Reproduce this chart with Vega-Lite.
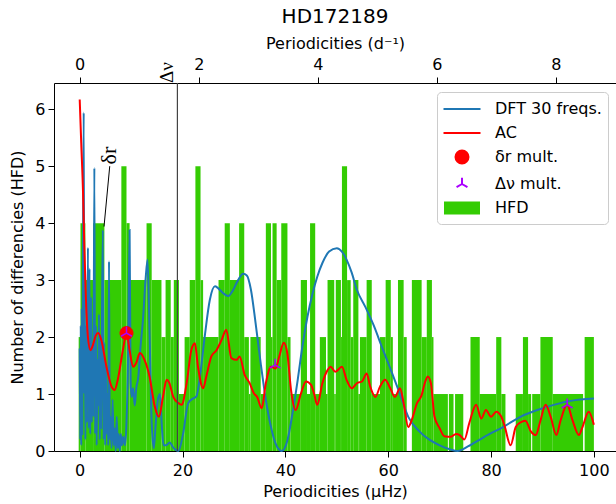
{
  "$schema": "https://vega.github.io/schema/vega-lite/v6.json",
  "width": 562,
  "height": 368,
  "autosize": {"type": "none"},
  "padding": {"left": 54, "top": 83, "right": 0, "bottom": 53},
  "title": {"text": "HD172189", "fontSize": 20, "font": "DejaVu Sans", "fontWeight": "normal", "color": "#000", "offset": 8},
  "config": {
    "view": {"stroke": null},
    "font": "DejaVu Sans",
    "axis": {"grid": false, "domainColor": "#000", "tickColor": "#000", "labelColor": "#000", "titleColor": "#000", "labelFontSize": 16, "titleFontSize": 16, "titleFontWeight": "normal", "tickSize": 6, "labelFont": "DejaVu Sans", "titleFont": "DejaVu Sans", "labelPadding": 5, "titlePadding": 5},
    "legend": {"labelFontSize": 16, "labelFont": "DejaVu Sans", "labelColor": "#000", "symbolSize": 400, "symbolStrokeWidth": 2, "symbolOffset": 8, "strokeColor": "#cccccc", "fillColor": "rgba(255,255,255,0.8)", "cornerRadius": 4, "padding": 6, "rowPadding": 5, "labelOffset": 22, "labelLimit": 250}
  },
  "datasets": {
    "hfd": [
      {"u": -0.2, "u2": 0.15, "n": 2}, {"u": 0.15, "u2": 1.1, "n": 4}, {"u": 1.1, "u2": 2.6, "n": 3}, {"u": 2.6, "u2": 4.8, "n": 4},
      {"u": 4.8, "u2": 8.1, "n": 3}, {"u": 8.1, "u2": 9.1, "n": 5}, {"u": 9.1, "u2": 9.7, "n": 4}, {"u": 9.7, "u2": 13.0, "n": 3},
      {"u": 13.0, "u2": 14.0, "n": 4}, {"u": 14.0, "u2": 15.9, "n": 3}, {"u": 15.9, "u2": 16.7, "n": 2}, {"u": 16.7, "u2": 17.7, "n": 3},
      {"u": 17.7, "u2": 18.3, "n": 2}, {"u": 18.3, "u2": 19.3, "n": 3}, {"u": 19.3, "u2": 20.4, "n": 1}, {"u": 20.4, "u2": 21.4, "n": 2},
      {"u": 21.4, "u2": 22.5, "n": 3}, {"u": 22.5, "u2": 23.5, "n": 5}, {"u": 23.5, "u2": 24.0, "n": 3}, {"u": 24.0, "u2": 27.0, "n": 2},
      {"u": 27.0, "u2": 28.2, "n": 3}, {"u": 28.2, "u2": 29.2, "n": 4}, {"u": 29.2, "u2": 31.0, "n": 3}, {"u": 31.0, "u2": 32.0, "n": 4},
      {"u": 32.0, "u2": 32.9, "n": 2}, {"u": 32.9, "u2": 33.2, "n": 1}, {"u": 33.2, "u2": 35.2, "n": 2}, {"u": 35.2, "u2": 36.2, "n": 1},
      {"u": 36.2, "u2": 37.2, "n": 4}, {"u": 37.2, "u2": 37.5, "n": 2}, {"u": 37.5, "u2": 38.3, "n": 4}, {"u": 38.3, "u2": 39.2, "n": 3},
      {"u": 39.2, "u2": 40.4, "n": 4}, {"u": 40.4, "u2": 41.0, "n": 2}, {"u": 41.0, "u2": 43.0, "n": 1}, {"u": 43.0, "u2": 44.2, "n": 3},
      {"u": 44.2, "u2": 44.8, "n": 1}, {"u": 44.8, "u2": 45.8, "n": 4}, {"u": 45.8, "u2": 46.7, "n": 1}, {"u": 46.7, "u2": 47.9, "n": 2},
      {"u": 47.9, "u2": 48.2, "n": 1}, {"u": 48.2, "u2": 49.5, "n": 3}, {"u": 49.5, "u2": 49.8, "n": 1}, {"u": 49.8, "u2": 50.8, "n": 3},
      {"u": 50.8, "u2": 51.0, "n": 2}, {"u": 51.0, "u2": 52.0, "n": 5}, {"u": 52.0, "u2": 52.7, "n": 3}, {"u": 52.7, "u2": 53.2, "n": 2},
      {"u": 53.2, "u2": 54.2, "n": 3}, {"u": 54.2, "u2": 54.5, "n": 1}, {"u": 54.5, "u2": 55.8, "n": 2}, {"u": 55.8, "u2": 56.8, "n": 3},
      {"u": 56.8, "u2": 58.4, "n": 1}, {"u": 58.4, "u2": 59.5, "n": 2}, {"u": 59.5, "u2": 60.5, "n": 3}, {"u": 60.5, "u2": 60.9, "n": 2},
      {"u": 60.9, "u2": 61.9, "n": 1}, {"u": 61.9, "u2": 63.0, "n": 3}, {"u": 63.0, "u2": 63.6, "n": 2}, {"u": 64.6, "u2": 66.5, "n": 3},
      {"u": 66.5, "u2": 67.5, "n": 2}, {"u": 67.5, "u2": 68.5, "n": 3}, {"u": 68.5, "u2": 68.8, "n": 2}, {"u": 68.8, "u2": 71.6, "n": 1},
      {"u": 71.8, "u2": 72.7, "n": 1}, {"u": 73.0, "u2": 74.6, "n": 1}, {"u": 76.0, "u2": 77.8, "n": 2}, {"u": 77.8, "u2": 81.0, "n": 1},
      {"u": 81.0, "u2": 82.0, "n": 2}, {"u": 82.0, "u2": 82.8, "n": 1}, {"u": 84.8, "u2": 86.2, "n": 1}, {"u": 86.2, "u2": 87.2, "n": 2},
      {"u": 87.2, "u2": 87.8, "n": 1}, {"u": 88.0, "u2": 89.6, "n": 1}, {"u": 89.6, "u2": 92.0, "n": 2}, {"u": 92.0, "u2": 97.9, "n": 1},
      {"u": 98.2, "u2": 100.0, "n": 2}
    ],
    "dft": [
      {"u": 0.0, "v": 1.8}, {"u": 0.1, "v": 0.2}, {"u": 0.2, "v": 2.2}, {"u": 0.3, "v": 0.1}, {"u": 0.4, "v": 2.5}, {"u": 0.5, "v": 0.3},
      {"u": 0.62, "v": 3.0}, {"u": 0.78, "v": 5.94}, {"u": 0.9, "v": 1.0}, {"u": 1.0, "v": 2.6}, {"u": 1.1, "v": 0.2}, {"u": 1.25, "v": 2.2},
      {"u": 1.4, "v": 0.5}, {"u": 1.6, "v": 3.57}, {"u": 1.75, "v": 0.4}, {"u": 1.9, "v": 3.2}, {"u": 2.05, "v": 0.3}, {"u": 2.2, "v": 2.7},
      {"u": 2.35, "v": 0.5}, {"u": 2.5, "v": 1.8}, {"u": 2.65, "v": 0.6}, {"u": 2.85, "v": 4.97}, {"u": 3.0, "v": 0.3}, {"u": 3.15, "v": 2.2},
      {"u": 3.3, "v": 0.1}, {"u": 3.45, "v": 1.6}, {"u": 3.6, "v": 0.8}, {"u": 3.75, "v": 2.4}, {"u": 3.9, "v": 0.2}, {"u": 4.05, "v": 2.0},
      {"u": 4.2, "v": 0.4}, {"u": 4.35, "v": 2.6}, {"u": 4.5, "v": 3.88}, {"u": 4.65, "v": 0.2}, {"u": 4.8, "v": 1.9}, {"u": 4.95, "v": 0.1},
      {"u": 5.1, "v": 1.5}, {"u": 5.25, "v": 0.3}, {"u": 5.4, "v": 1.0}, {"u": 5.55, "v": 0.1}, {"u": 5.7, "v": 3.33}, {"u": 5.85, "v": 0.2},
      {"u": 6.0, "v": 0.6}, {"u": 6.2, "v": 0.05}, {"u": 6.4, "v": 0.9}, {"u": 6.6, "v": 0.1}, {"u": 6.8, "v": 0.4}, {"u": 7.0, "v": 0.0},
      {"u": 7.2, "v": 0.6}, {"u": 7.4, "v": 0.05}, {"u": 7.6, "v": 0.3}, {"u": 7.8, "v": 0.0}, {"u": 8.0, "v": 0.3}, {"u": 8.2, "v": 0.1},
      {"u": 8.5, "v": 0.25}, {"u": 8.8, "v": 0.1}, {"u": 9.1, "v": 0.5}, {"u": 9.4, "v": 1.6}, {"u": 9.7, "v": 3.88}, {"u": 9.9, "v": 1.2},
      {"u": 10.1, "v": 0.95}, {"u": 10.4, "v": 1.1}, {"u": 10.7, "v": 0.8}, {"u": 11.0, "v": 1.1}, {"u": 11.4, "v": 1.3}, {"u": 11.8, "v": 1.8},
      {"u": 12.3, "v": 2.3}, {"u": 12.8, "v": 3.0}, {"u": 13.2, "v": 3.36}, {"u": 13.6, "v": 2.0}, {"u": 14.0, "v": 0.5}, {"u": 14.4, "v": 0.05},
      {"u": 14.8, "v": 0.5}, {"u": 15.2, "v": 0.9}, {"u": 15.6, "v": 1.0}, {"u": 16.0, "v": 0.4}, {"u": 16.3, "v": 0.1}, {"u": 16.8, "v": 0.1},
      {"u": 17.5, "v": 0.15}, {"u": 18.2, "v": 0.06}, {"u": 19.2, "v": 0.0}, {"u": 20.1, "v": 0.3}, {"u": 21.1, "v": 0.84}, {"u": 22.0, "v": 0.92},
      {"u": 22.7, "v": 0.96}, {"u": 23.3, "v": 1.25}, {"u": 24.3, "v": 2.0}, {"u": 25.3, "v": 2.65}, {"u": 26.3, "v": 2.89}, {"u": 26.9, "v": 2.86},
      {"u": 27.9, "v": 2.77}, {"u": 28.9, "v": 2.72}, {"u": 29.8, "v": 2.82}, {"u": 30.8, "v": 3.0}, {"u": 31.8, "v": 3.11}, {"u": 32.5, "v": 3.08},
      {"u": 33.3, "v": 2.83}, {"u": 34.2, "v": 2.25}, {"u": 35.2, "v": 1.54}, {"u": 36.2, "v": 0.9}, {"u": 37.2, "v": 0.42}, {"u": 38.1, "v": 0.13},
      {"u": 39.3, "v": 0.0}, {"u": 40.4, "v": 0.19}, {"u": 41.4, "v": 0.67}, {"u": 42.4, "v": 1.25}, {"u": 43.3, "v": 1.83}, {"u": 44.3, "v": 2.36},
      {"u": 45.3, "v": 2.77}, {"u": 46.2, "v": 3.06}, {"u": 47.2, "v": 3.3}, {"u": 48.5, "v": 3.5}, {"u": 50.0, "v": 3.56}, {"u": 51.0, "v": 3.5},
      {"u": 51.9, "v": 3.36}, {"u": 52.9, "v": 3.13}, {"u": 53.9, "v": 2.83}, {"u": 55.5, "v": 2.54}, {"u": 57.2, "v": 2.2}, {"u": 58.75, "v": 1.83},
      {"u": 60.4, "v": 1.45}, {"u": 62.0, "v": 1.07}, {"u": 63.9, "v": 0.6}, {"u": 66.0, "v": 0.35}, {"u": 68.0, "v": 0.2}, {"u": 70.0, "v": 0.1},
      {"u": 72.0, "v": 0.03}, {"u": 73.5, "v": 0.0}, {"u": 75.5, "v": 0.08}, {"u": 78.7, "v": 0.25}, {"u": 82.5, "v": 0.43}, {"u": 85.7, "v": 0.6},
      {"u": 89.0, "v": 0.72}, {"u": 92.2, "v": 0.81}, {"u": 95.5, "v": 0.88}, {"u": 100.0, "v": 0.92}
    ],
    "ac": [
      {"u": 0.0, "v": 6.17}, {"u": 0.3, "v": 5.4}, {"u": 0.65, "v": 4.53}, {"u": 0.9, "v": 3.6}, {"u": 1.17, "v": 2.77}, {"u": 1.6, "v": 2.0},
      {"u": 2.1, "v": 1.77}, {"u": 2.6, "v": 1.87}, {"u": 3.1, "v": 2.02}, {"u": 3.6, "v": 2.07}, {"u": 4.2, "v": 1.95}, {"u": 5.2, "v": 1.48},
      {"u": 6.2, "v": 1.13}, {"u": 6.8, "v": 1.07}, {"u": 7.4, "v": 1.25}, {"u": 8.4, "v": 1.77}, {"u": 9.1, "v": 2.07}, {"u": 9.7, "v": 1.77},
      {"u": 10.4, "v": 1.48}, {"u": 11.0, "v": 1.55}, {"u": 11.7, "v": 1.72}, {"u": 12.6, "v": 1.6}, {"u": 13.6, "v": 1.3}, {"u": 14.6, "v": 0.78},
      {"u": 15.4, "v": 0.6}, {"u": 16.2, "v": 0.95}, {"u": 16.9, "v": 1.25}, {"u": 17.4, "v": 1.2}, {"u": 18.2, "v": 0.95}, {"u": 19.2, "v": 0.84},
      {"u": 19.8, "v": 0.81}, {"u": 20.8, "v": 1.19}, {"u": 21.7, "v": 1.77}, {"u": 22.4, "v": 1.89}, {"u": 23.0, "v": 1.48}, {"u": 24.0, "v": 1.1},
      {"u": 24.6, "v": 1.3}, {"u": 25.6, "v": 1.66}, {"u": 26.6, "v": 1.77}, {"u": 27.6, "v": 1.95}, {"u": 28.5, "v": 2.13}, {"u": 29.5, "v": 1.63},
      {"u": 30.5, "v": 1.6}, {"u": 31.1, "v": 1.66}, {"u": 32.1, "v": 1.33}, {"u": 33.0, "v": 1.2}, {"u": 33.9, "v": 1.01}, {"u": 34.5, "v": 0.95},
      {"u": 35.4, "v": 0.75}, {"u": 36.2, "v": 1.19}, {"u": 37.2, "v": 1.48}, {"u": 38.1, "v": 1.45}, {"u": 38.8, "v": 1.66}, {"u": 39.7, "v": 1.9},
      {"u": 40.4, "v": 1.7}, {"u": 41.1, "v": 1.07}, {"u": 42.0, "v": 0.72}, {"u": 43.0, "v": 1.0}, {"u": 44.0, "v": 1.22}, {"u": 45.0, "v": 1.16},
      {"u": 45.6, "v": 1.0}, {"u": 46.2, "v": 0.81}, {"u": 47.2, "v": 1.19}, {"u": 48.2, "v": 1.42}, {"u": 48.8, "v": 1.48}, {"u": 49.7, "v": 1.39},
      {"u": 51.0, "v": 1.48}, {"u": 51.9, "v": 1.25}, {"u": 52.9, "v": 1.1}, {"u": 53.9, "v": 1.19}, {"u": 54.9, "v": 1.22}, {"u": 55.8, "v": 1.36},
      {"u": 56.5, "v": 1.13}, {"u": 57.5, "v": 0.95}, {"u": 58.4, "v": 1.13}, {"u": 59.4, "v": 1.25}, {"u": 60.4, "v": 1.1}, {"u": 61.3, "v": 0.95},
      {"u": 62.3, "v": 1.1}, {"u": 63.0, "v": 0.84}, {"u": 63.9, "v": 0.42}, {"u": 64.6, "v": 0.55}, {"u": 65.6, "v": 0.84}, {"u": 66.5, "v": 0.98},
      {"u": 67.1, "v": 1.19}, {"u": 67.7, "v": 1.31}, {"u": 68.3, "v": 1.19}, {"u": 69.0, "v": 0.6}, {"u": 70.0, "v": 0.4}, {"u": 70.9, "v": 0.26},
      {"u": 72.2, "v": 0.25}, {"u": 73.2, "v": 0.3}, {"u": 73.9, "v": 0.28}, {"u": 74.8, "v": 0.2}, {"u": 75.8, "v": 0.5}, {"u": 77.1, "v": 0.81},
      {"u": 78.1, "v": 0.57}, {"u": 79.0, "v": 0.72}, {"u": 80.0, "v": 0.6}, {"u": 81.0, "v": 0.69}, {"u": 82.0, "v": 0.6}, {"u": 82.6, "v": 0.45},
      {"u": 83.8, "v": 0.1}, {"u": 84.8, "v": 0.42}, {"u": 85.7, "v": 0.5}, {"u": 86.7, "v": 0.53}, {"u": 87.7, "v": 0.35}, {"u": 88.7, "v": 0.28},
      {"u": 89.6, "v": 0.53}, {"u": 90.6, "v": 0.81}, {"u": 91.6, "v": 0.6}, {"u": 92.7, "v": 0.28}, {"u": 93.5, "v": 0.53}, {"u": 94.8, "v": 0.81},
      {"u": 95.8, "v": 0.55}, {"u": 97.1, "v": 0.28}, {"u": 97.7, "v": 0.4}, {"u": 99.0, "v": 0.69}, {"u": 100.0, "v": 0.46}
    ],
    "dr": [{"u": 9.1, "v": 2.07}],
    "dnu": [{"u": 9.1, "v": 2.07}, {"u": 38.0, "v": 1.51}, {"u": 94.8, "v": 0.81}]
  },
  "layer": [
    {
      "layer": [
        {
          "data": {"name": "hfd"},
          "mark": {"type": "rect", "strokeWidth": 0},
          "encoding": {
            "x": {"field": "u", "type": "quantitative", "scale": {"domain": [-5, 104.3], "nice": false, "zero": false},
                  "axis": {"orient": "bottom", "values": [0, 20, 40, 60, 80, 100], "format": "d", "title": "Periodicities (μHz)"}},
            "x2": {"field": "u2"},
            "y": {"field": "n", "type": "quantitative", "scale": {"domain": [0, 6.46], "nice": false},
                  "axis": {"values": [0, 1, 2, 3, 4, 5, 6], "format": "d", "title": "Number of differencies (HFD)", "labelPadding": 3, "titlePadding": 9}},
            "y2": {"datum": 0},
            "fill": {"datum": "HFD", "type": "nominal",
                     "scale": {"domain": ["DFT 30 freqs.", "AC", "δr mult.", "Δν mult.", "HFD"], "range": ["#1f77b4", "#ff0000", "#ff0000", "#aa00ff", "#34cc03"]},
                     "legend": {"title": null, "orient": "none", "legendX": 383, "legendY": 9}}
          }
        },
        {
          "data": {"name": "dft"},
          "mark": {"type": "line", "strokeWidth": 2, "interpolate": "monotone"},
          "encoding": {
            "x": {"field": "u", "type": "quantitative"},
            "y": {"field": "v", "type": "quantitative"},
            "stroke": {"datum": "DFT 30 freqs.", "type": "nominal",
                       "scale": {"domain": ["DFT 30 freqs.", "AC", "δr mult.", "Δν mult.", "HFD"], "range": ["#1f77b4", "#ff0000", "#ff0000", "#aa00ff", "#34cc03"]}}
          }
        },
        {
          "data": {"name": "ac"},
          "mark": {"type": "line", "strokeWidth": 2, "interpolate": "monotone"},
          "encoding": {
            "x": {"field": "u", "type": "quantitative"},
            "y": {"field": "v", "type": "quantitative"},
            "stroke": {"datum": "AC", "type": "nominal",
                       "scale": {"domain": ["DFT 30 freqs.", "AC", "δr mult.", "Δν mult.", "HFD"], "range": ["#1f77b4", "#ff0000", "#ff0000", "#aa00ff", "#34cc03"]}}
          }
        },
        {
          "data": {"name": "dr"},
          "mark": {"type": "point", "filled": true, "size": 400, "strokeWidth": 1, "opacity": 1},
          "encoding": {
            "x": {"field": "u", "type": "quantitative"},
            "y": {"field": "v", "type": "quantitative"},
            "fill": {"datum": "δr mult.", "type": "nominal",
                     "scale": {"domain": ["DFT 30 freqs.", "AC", "δr mult.", "Δν mult.", "HFD"], "range": ["#1f77b4", "#ff0000", "#ff0000", "#aa00ff", "#34cc03"]}},
            "stroke": {"datum": "δr mult.", "type": "nominal",
                       "scale": {"domain": ["DFT 30 freqs.", "AC", "δr mult.", "Δν mult.", "HFD"], "range": ["#1f77b4", "#ff0000", "#ff0000", "#aa00ff", "#34cc03"]}},
            "shape": {"datum": "δr mult.", "type": "nominal",
                      "scale": {"domain": ["DFT 30 freqs.", "AC", "δr mult.", "Δν mult.", "HFD"],
                                "range": ["M-1.85,0L1.85,0", "M-1.85,0L1.85,0", "M0.65,0A0.65,0.65,0,1,1,-0.65,0A0.65,0.65,0,1,1,0.65,0Z", "M0,0L0,-0.63M0,0L-0.545,0.315M0,0L0.545,0.315", "M-1.7,-0.55L1.7,-0.55L1.7,0.55L-1.7,0.55Z"]}}
          }
        },
        {
          "data": {"name": "dnu"},
          "mark": {"type": "point", "filled": true, "size": 400, "strokeWidth": 1.5, "opacity": 1},
          "encoding": {
            "x": {"field": "u", "type": "quantitative"},
            "y": {"field": "v", "type": "quantitative"},
            "fill": {"datum": "Δν mult.", "type": "nominal",
                     "scale": {"domain": ["DFT 30 freqs.", "AC", "δr mult.", "Δν mult.", "HFD"], "range": ["#1f77b4", "#ff0000", "#ff0000", "#aa00ff", "#34cc03"]}},
            "stroke": {"datum": "Δν mult.", "type": "nominal",
                       "scale": {"domain": ["DFT 30 freqs.", "AC", "δr mult.", "Δν mult.", "HFD"], "range": ["#1f77b4", "#ff0000", "#ff0000", "#aa00ff", "#34cc03"]}},
            "shape": {"datum": "Δν mult.", "type": "nominal",
                      "scale": {"domain": ["DFT 30 freqs.", "AC", "δr mult.", "Δν mult.", "HFD"],
                                "range": ["M-1.85,0L1.85,0", "M-1.85,0L1.85,0", "M0.65,0A0.65,0.65,0,1,1,-0.65,0A0.65,0.65,0,1,1,0.65,0Z", "M0,0L0,-0.63M0,0L-0.545,0.315M0,0L0.545,0.315", "M-1.7,-0.55L1.7,-0.55L1.7,0.55L-1.7,0.55Z"]}}
          }
        },
        {
          "data": {"values": [{"u": 5.84, "v": 5.0, "u2": 4.73, "v2": 3.94}]},
          "mark": {"type": "rule", "color": "#000", "strokeWidth": 1},
          "encoding": {
            "x": {"field": "u", "type": "quantitative"},
            "y": {"field": "v", "type": "quantitative"},
            "x2": {"field": "u2"},
            "y2": {"field": "v2"}
          }
        },
        {
          "data": {"values": [{"u": 7.0, "v": 5.03, "t": "δr"}]},
          "mark": {"type": "text", "angle": 270, "align": "left", "baseline": "alphabetic", "font": "Liberation Serif", "fontSize": 22, "color": "#000"},
          "encoding": {
            "x": {"field": "u", "type": "quantitative"},
            "y": {"field": "v", "type": "quantitative"},
            "text": {"field": "t"}
          }
        }
      ]
    },
    {
      "data": {"values": [{"d": 1.6416, "label": "Δν"}]},
      "layer": [
        {
          "mark": {"type": "rule", "color": "#444444", "strokeWidth": 1.2},
          "encoding": {
            "x": {"field": "d", "type": "quantitative", "scale": {"domain": [-0.432, 9.0116], "nice": false, "zero": false},
                  "axis": {"orient": "top", "values": [0, 2, 4, 6, 8], "format": "d", "title": "Periodicities (d⁻¹)"}}
          }
        },
        {
          "mark": {"type": "text", "angle": 270, "align": "left", "baseline": "bottom", "font": "Liberation Serif", "fontSize": 19, "color": "#000"},
          "encoding": {
            "x": {"field": "d", "type": "quantitative"},
            "y": {"datum": 6.46, "type": "quantitative"},
            "text": {"field": "label"}
          }
        }
      ]
    }
  ],
  "resolve": {"scale": {"x": "independent"}, "axis": {"x": "independent"}}
}
